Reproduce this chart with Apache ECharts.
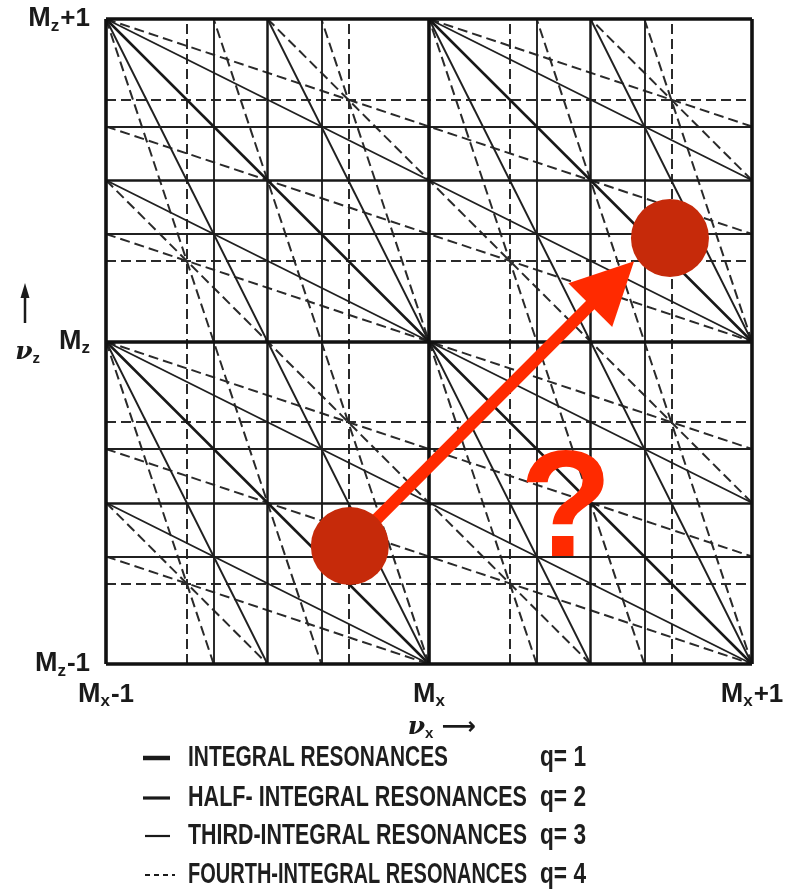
<!DOCTYPE html>
<html>
<head>
<meta charset="utf-8">
<script src="https://cdn.jsdelivr.net/npm/echarts@6/dist/echarts.min.js"></script>
<style>html,body{margin:0;padding:0;background:#fff}#c{width:794px;height:890px}</style>
</head>
<body>
<div id="c"></div>
<script>
// ---- data ----
// resonance coefficients (m, n) for m*nu_x + n*nu_z = p, grouped by order q
const coeffsQ1 = [[1, 0], [0, 1]];
const coeffsQ2 = [[2, 0], [0, 2], [1, 1]];
const coeffsQ3 = [[3, 0], [0, 3], [2, 1], [1, 2]];
const coeffsQ4 = [[4, 0], [0, 4], [3, 1], [1, 3], [2, 2]];
// tune range (relative to M_x, M_z)
const tuneMin = -1;
const tuneMax = 1;
const xTickLabels = ['M_x-1', 'M_x', 'M_x+1'];
const yTickLabels = ['M_z-1', 'M_z', 'M_z+1'];
// legend rows
const legendNames = ['INTEGRAL RESONANCES', 'HALF- INTEGRAL RESONANCES', 'THIRD-INTEGRAL RESONANCES', 'FOURTH-INTEGRAL RESONANCES'];
const legendQ = ['q= 1', 'q= 2', 'q= 3', 'q= 4'];
// annotation (working point move)
const startTune = [-0.245, -0.634];
const endTune = [0.746, 0.321];
const arrowHead = [0.567, 0.181];
const questionPos = [0.424, -0.535];

function gcd(a, b) { a = Math.abs(a); b = Math.abs(b); while (b) { const t = b; b = a % b; a = t; } return a; }

function resonanceSegments(coeffs) {
  const segs = [];
  coeffs.forEach(([m, n]) => {
    const q = m + n;
    for (let p = tuneMin * q; p <= tuneMax * q; p++) {
      if (gcd(gcd(m, n), p) !== 1) continue;
      const pts = [];
      const add = (x, y) => {
        if (x < tuneMin - 1e-9 || x > tuneMax + 1e-9 || y < tuneMin - 1e-9 || y > tuneMax + 1e-9) return;
        if (pts.some(pt => Math.abs(pt[0] - x) < 1e-9 && Math.abs(pt[1] - y) < 1e-9)) return;
        pts.push([x, y]);
      };
      if (n !== 0) { add(tuneMin, (p - m * tuneMin) / n); add(tuneMax, (p - m * tuneMax) / n); }
      if (m !== 0) { add((p - n * tuneMin) / m, tuneMin); add((p - n * tuneMax) / m, tuneMax); }
      if (pts.length >= 2) segs.push({ coords: [pts[0], pts[1]] });
    }
  });
  return segs;
}

const styles = [
  { width: 3.6, color: '#111', type: 'solid' },
  { width: 2.5, color: '#181818', type: 'solid' },
  { width: 1.9, color: '#202020', type: 'solid' },
  { width: 2.0, color: '#2a2a2a', type: [10, 5] }
];
const allCoeffs = [coeffsQ1, coeffsQ2, coeffsQ3, coeffsQ4];

function richLabel(s) {
  const parts = s.split('_');
  const base = parts[0];
  const sub = parts[1].charAt(0);
  const rest = parts[1].slice(1);
  return '{m|' + base + '}{s|' + sub + '}' + (rest ? '{r|' + rest + '}' : '');
}
const labelRich = {
  m: { fontSize: 27, fontWeight: 'bold', color: '#1a1a1a', fontFamily: 'Liberation Sans' },
  r: { fontSize: 26, fontWeight: 'bold', color: '#1a1a1a', fontFamily: 'Liberation Sans', padding: [0, 0, 0, 1] },
  s: { fontSize: 17, fontWeight: 'bold', color: '#1a1a1a', fontFamily: 'Liberation Sans', padding: [14, 0, 0, 0] }
};

const chart = echarts.init(document.getElementById('c'), null, { renderer: 'canvas' });

const series = [];
allCoeffs.forEach((c, i) => {
  series.push({
    type: 'lines',
    coordinateSystem: 'cartesian2d',
    clip: false,
    silent: true,
    z: 2 + (3 - i),
    lineStyle: { width: styles[i].width, color: styles[i].color, type: styles[i].type, opacity: 1, curveness: 0 },
    data: resonanceSegments(c)
  });
});
series.push({
  type: 'lines',
  coordinateSystem: 'cartesian2d',
  clip: false,
  z: 10,
  symbol: ['none', 'triangle'],
  symbolSize: [1, 62],
  lineStyle: { width: 12, color: '#FF2A00', opacity: 1, curveness: 0 },
  data: [{ coords: [startTune, arrowHead] }]
});
series.push({
  type: 'scatter',
  z: 11,
  symbolSize: 78,
  itemStyle: { color: '#C62A0A', opacity: 1 },
  data: [startTune, endTune]
});
series.push({
  type: 'scatter',
  z: 12,
  symbol: 'circle',
  symbolSize: 2,
  itemStyle: { color: 'rgba(255,255,255,0)', opacity: 1 },
  label: { show: true, position: 'inside', formatter: '?', fontSize: 152, fontWeight: 'bold', color: '#FF2A00', opacity: 1, fontFamily: 'Liberation Sans' },
  data: [questionPos]
});

// measure text to fit the condensed legend lettering
const mctx = document.createElement('canvas').getContext('2d');
function textW(t, size) { mctx.font = 'bold ' + size + 'px "Liberation Sans"'; return mctx.measureText(t).width; }

const legendStyles = [
  { w: 4.5, dash: null, x1: 143, x2: 170 },
  { w: 3.2, dash: null, x1: 143, x2: 170 },
  { w: 2.2, dash: null, x1: 145, x2: 170 },
  { w: 2.2, dash: [5, 4], x1: 145, x2: 175 }
];
const rowY = [758, 798, 836, 875];
const nameWidth = [260, 339, 339, 339];
const graphics = [];
legendNames.forEach((name, i) => {
  const ls = legendStyles[i];
  graphics.push({ type: 'line', shape: { x1: ls.x1, y1: rowY[i], x2: ls.x2, y2: rowY[i] },
    style: { stroke: '#1a1a1a', lineWidth: ls.w, lineDash: ls.dash } });
  graphics.push({ type: 'text', x: 188, y: rowY[i], scaleX: nameWidth[i] / textW(name, 29),
    style: { text: name, fontSize: 29, fontWeight: 'bold', fontFamily: 'Liberation Sans', fill: '#1e1e1e', textAlign: 'left', textVerticalAlign: 'middle' } });
  graphics.push({ type: 'text', x: 540, y: rowY[i], scaleX: 46 / textW(legendQ[i], 29),
    style: { text: legendQ[i], fontSize: 29, fontWeight: 'bold', fontFamily: 'Liberation Sans', fill: '#1e1e1e', textAlign: 'left', textVerticalAlign: 'middle' } });
});
// vertical arrow above the nu_z axis title
graphics.push({ type: 'line', shape: { x1: 25, y1: 323, x2: 25, y2: 294 }, style: { stroke: '#1a1a1a', lineWidth: 2.5 } });
graphics.push({ type: 'polygon', shape: { points: [[25, 283], [20.5, 298], [29.5, 298]] }, style: { fill: '#1a1a1a' } });

chart.setOption({
  backgroundColor: '#fff',
  animation: false,
  grid: { left: 106, right: 42, top: 19, bottom: 226, containLabel: false },
  xAxis: {
    type: 'value', min: tuneMin, max: tuneMax, interval: 1,
    axisLine: { show: false }, axisTick: { show: false }, splitLine: { show: false },
    axisLabel: { margin: 15, formatter: v => richLabel(xTickLabels[Math.round(v - tuneMin)]), rich: labelRich },
    name: '{nu|ν}{s|x}{ar| ⟶}', nameLocation: 'middle', nameGap: 50,
    nameTextStyle: { padding: [0, 0, 0, 26], rich: {
      nu: { fontSize: 25, fontStyle: 'italic', fontWeight: 'bold', color: '#1a1a1a', fontFamily: 'DejaVu Serif' },
      s: { fontSize: 15, fontWeight: 'bold', color: '#1a1a1a', fontFamily: 'Liberation Sans', padding: [12, 0, 0, 0] },
      ar: { fontSize: 24, fontWeight: 'bold', color: '#1a1a1a', fontFamily: 'DejaVu Sans' } } }
  },
  yAxis: {
    type: 'value', min: tuneMin, max: tuneMax, interval: 1,
    axisLine: { show: false }, axisTick: { show: false }, splitLine: { show: false },
    axisLabel: { margin: 16, formatter: v => richLabel(yTickLabels[Math.round(v - tuneMin)]), rich: labelRich },
    name: '{nu|ν}{s|z}', nameLocation: 'middle', nameGap: 66, nameRotate: 0, nameMoveOverlap: false,
    nameTextStyle: { padding: [22, 0, 0, 0], rich: {
      nu: { fontSize: 25, fontStyle: 'italic', fontWeight: 'bold', color: '#1a1a1a', fontFamily: 'DejaVu Serif' },
      s: { fontSize: 15, fontWeight: 'bold', color: '#1a1a1a', fontFamily: 'Liberation Sans', padding: [12, 0, 0, 0] } } }
  },
  series: series,
  graphic: graphics
});
</script>
</body>
</html>
